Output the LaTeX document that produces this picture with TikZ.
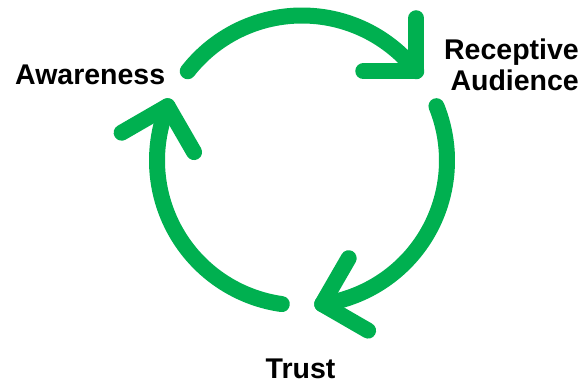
\documentclass[tikz,border=0pt]{standalone}
\usepackage{fontspec}
\setmainfont{Liberation Sans}
\usetikzlibrary{calc}
\definecolor{cyclegreen}{HTML}{00B050}
\tikzset{
    cyclearc/.style={line width=16pt,cyclegreen,line cap=round,line join=round},
    cyclelabel/.style={font=\fontsize{28.5}{31}\selectfont\bfseries,inner sep=0pt}
}
\newcommand{\cyclesetup}{
    \coordinate (c) at (302,223.5);
    \foreach \i in {0,1,2}{
        \coordinate (s\i) at ($(c)+(142-120*\i:145)$); % arc start
        \coordinate (t\i) at ($(c)+(38-120*\i:145)$);  % arrow tip
    }
}
\newcommand{\cyclearrow}[1]{
    \pgfmathsetmacro{\sa}{142-120*#1}
    \pgfmathsetmacro{\ha}{135-120*#1}
    \draw[cyclearc] (s#1) arc[start angle=\sa, end angle=\sa-104, radius=145];
    \draw[cyclearc] ($(t#1)+(\ha+45:53)$) -- (t#1) -- ($(t#1)+(\ha-45:53)$);
}

\begin{document}
\begin{tikzpicture}[x=1pt,y=1pt]
        \useasboundingbox (0,0) rectangle (586,384);
        \cyclesetup;

        \foreach \k in {0,1,2}{
            \cyclearrow{\k}
        }

        \node[cyclelabel,anchor=base west] (aware) at (15,300) {Awareness};
        \node[cyclelabel,anchor=base east,align=right] (recep) at (579,294) {Receptive\\Audience};
        \node[cyclelabel,anchor=base] (trust) at (300.5,6) {Trust};
\end{tikzpicture}
\end{document}
